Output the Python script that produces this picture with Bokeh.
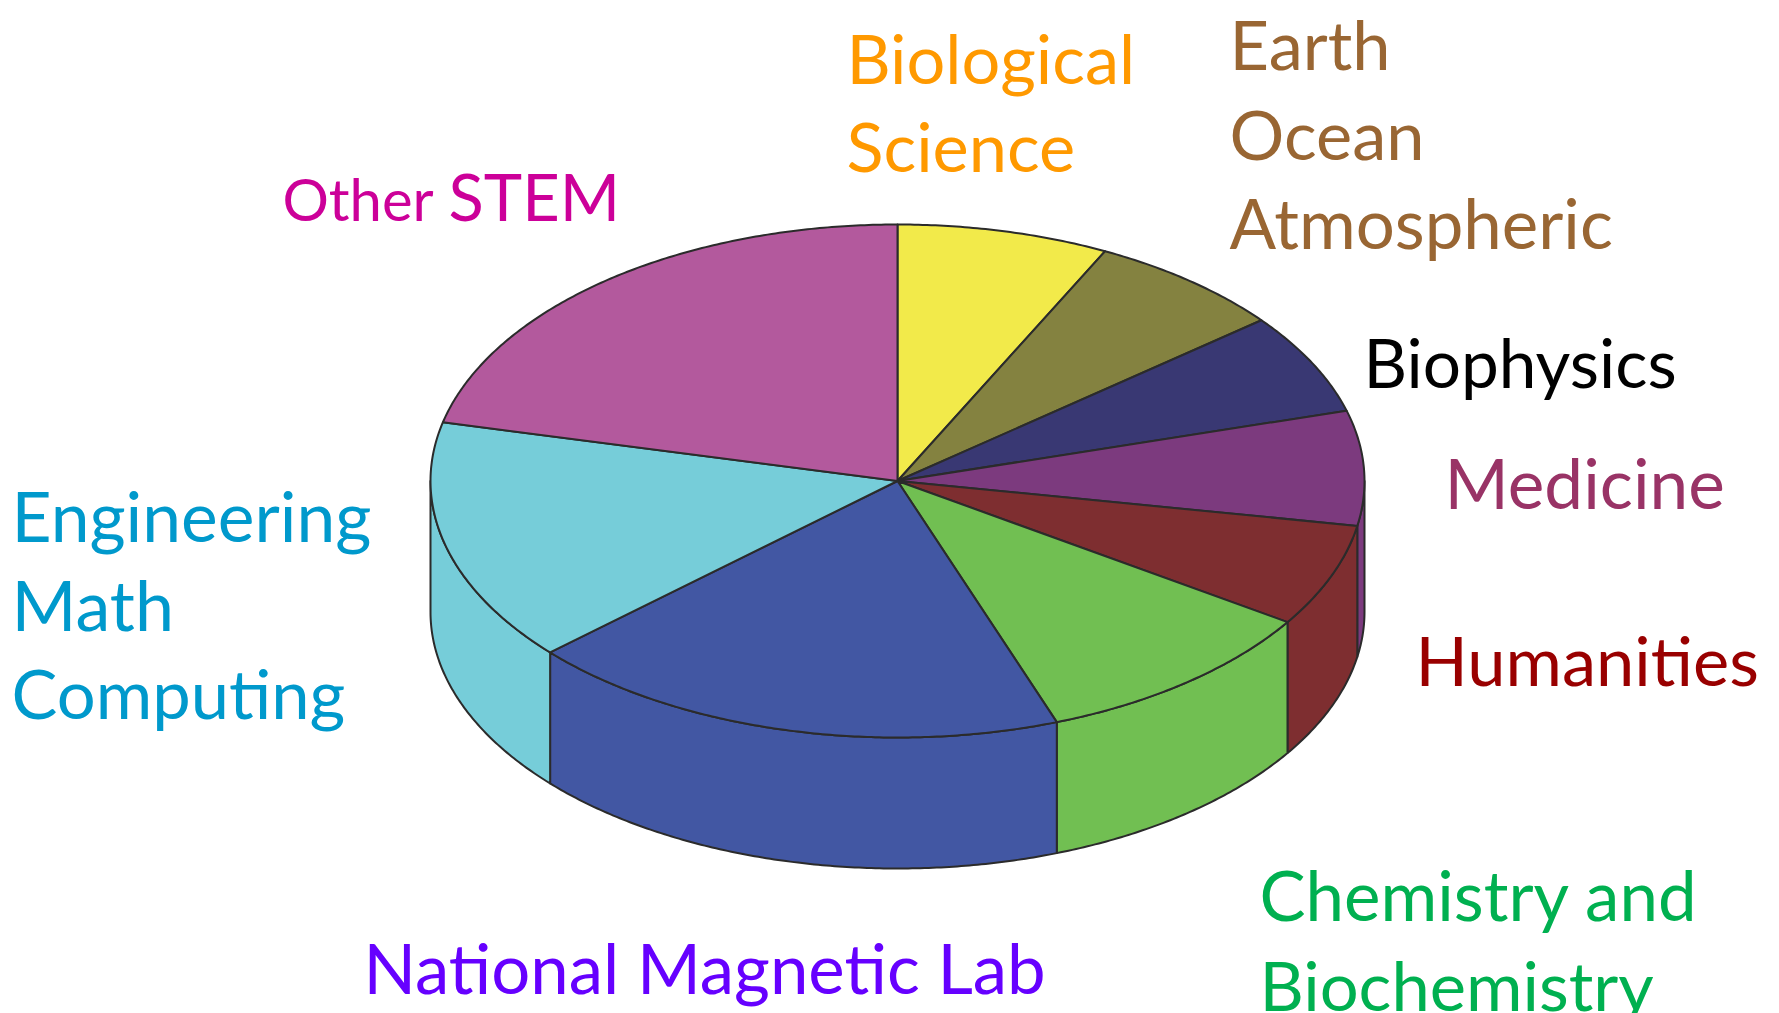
import numpy as np
from bokeh.plotting import figure
from bokeh.models import ColumnDataSource, Range1d
from bokeh.core.properties import value
from bokeh.embed import file_html
from bokeh.resources import INLINE

# Data: share of the pie, clockwise from 12 o'clock
slices = ["Biological Science", "Earth Ocean Atmospheric", "Biophysics", "Medicine", "Humanities",
          "Chemistry and Biochemistry", "National Magnetic Lab", "Engineering Math Computing", "Other STEM"]
shares = [7.33, 6.89, 6.36, 7.22, 6.47, 10.19, 18.89, 15.33, 21.32]
slice_colors = ["#F2EA4A", "#848240", "#393873", "#7C3A7E", "#7E2E30", "#71BF52", "#4257A3", "#76CDD9", "#B3599D"]

label_texts = ["Biological", "Science", "Earth", "Ocean", "Atmospheric", "Biophysics", "Medicine", "Humanities",
               "Chemistry and", "Biochemistry", "National Magnetic Lab", "Engineering", "Math", "Computing",
               "Other", "STEM"]
label_colors = ["#FF9900", "#FF9900", "#996633", "#996633", "#996633", "#000000", "#993366", "#990000",
                "#00B050", "#00B050", "#6600FF", "#0099CC", "#0099CC", "#0099CC", "#CC0099", "#CC0099"]
label_x = [846, 846, 1229, 1229, 1229, 1363, 1444, 1415, 1259, 1259, 363, 11, 11, 11, 282, 448]
label_y = [78, 166, 64, 154, 243, 381, 503, 680, 915, 1005, 988, 535, 624, 713, 215, 215]
label_size = [68.5, 68.5, 68.5, 68.5, 69, 67.5, 69.3, 68.6, 69, 68.7, 68.9, 69.5, 70, 68.7, 58, 65]

# Pie geometry in page-image pixels
CX, CY, RX, RY, DEPTH = 897, 480.5, 467, 256.5, 131
BASELINE_SHIFT = 0.3

edges = np.concatenate([[0], np.cumsum(shares)]) / np.sum(shares) * 360


def rim(t0, t1, dy=0):
    t = np.radians(np.linspace(t0, t1, max(int(abs(t1 - t0) * 2), 2)))
    return CX + RX * np.sin(t), CY + dy - RY * np.cos(t)


top_xs, top_ys, wall_xs, wall_ys, wall_cols = [], [], [], [], []
for a, b, col in zip(edges[:-1], edges[1:], slice_colors):
    x, y = rim(a, b)
    top_xs.append(np.concatenate([[CX], x]).tolist())
    top_ys.append(np.concatenate([[CY], y]).tolist())
    lo, hi = max(a, 90), min(b, 270)
    if hi > lo:
        x0, y0 = rim(lo, hi)
        x1, y1 = rim(hi, lo, DEPTH)
        wall_xs.append(np.concatenate([x0, x1]).tolist())
        wall_ys.append(np.concatenate([y0, y1]).tolist())
        wall_cols.append(col)

p = figure(width=1779, height=1013, output_backend="svg", toolbar_location=None,
           x_range=Range1d(0, 1779), y_range=Range1d(1013, 0),
           min_border=0, outline_line_color=None, background_fill_color="white")
p.axis.visible = False
p.grid.visible = False

EDGE = "#2B2B2B"
p.patches(wall_xs, wall_ys, fill_color=wall_cols, line_color=EDGE, line_width=2, line_join="round")
p.patches(top_xs, top_ys, fill_color=slice_colors, line_color=EDGE, line_width=2, line_join="round")

src = ColumnDataSource(dict(x=label_x, y=[y - BASELINE_SHIFT * s for y, s in zip(label_y, label_size)],
                            text=label_texts, color=label_colors,
                            size=[f"{s}px" for s in label_size]))
p.text(x="x", y="y", text="text", source=src, text_color="color", text_font_size="size",
       text_font=value("Lato"), text_baseline="middle", text_align="left")

open("out.html", "w").write(file_html(p, INLINE))
